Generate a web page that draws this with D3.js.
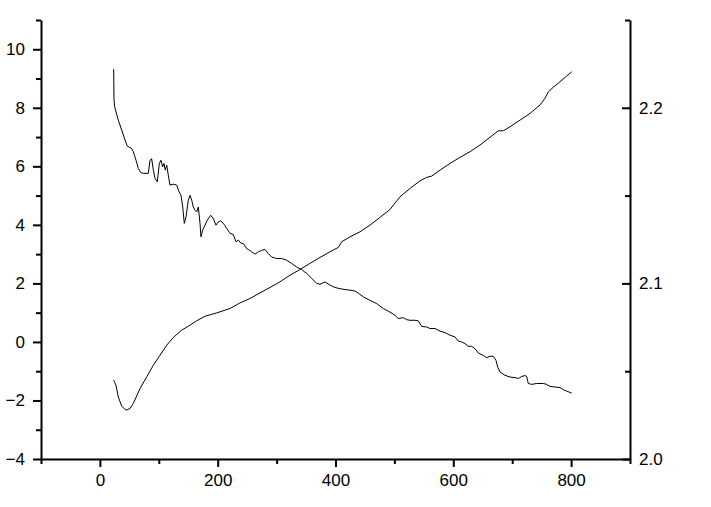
<!DOCTYPE html>
<html>
<head>
<meta charset="utf-8">
<script src="https://cdn.jsdelivr.net/npm/d3@7"></script>
<style>
  html, body { margin: 0; padding: 0; background: #fff; }
  svg { display: block; }
  .axis text { font-family: "Liberation Sans", Arial, sans-serif; font-size: 17px; fill: #000; }
</style>
</head>
<body>
<svg id="chart" width="711" height="507"></svg>
<script>
// ---- data ----
const xMajorTicks = [0, 200, 400, 600, 800];
const xMinorTicks = [-100, 100, 300, 500, 700, 900];
const leftMajorTicks = [-4, -2, 0, 2, 4, 6, 8, 10];
const leftMinorTicks = [-3, -1, 1, 3, 5, 7, 9, 11];
const rightMajorTicks = [2.0, 2.1, 2.2];
const rightMinorTicks = [2.05, 2.15, 2.25];

// series A (left axis): decreasing, noisy
const seriesAx = [23.4, 23.9, 25.1, 31.2, 37.0, 42.6, 46.5, 54.0, 56.7, 61.3, 65.2, 69.3, 73.7, 82.2, 85.1, 87.9, 90.7, 93.6, 97.5, 100.9,
  103.7, 106.6, 108.8, 111.0, 113.4, 116.1, 119.0, 124.6, 130.4, 134.3, 137.7, 140.6, 143.3, 146.2, 150.1, 153.0, 155.9, 158.6, 161.5, 164.3,
  167.1, 170.0, 171.6, 174.5, 178.4, 182.3, 188.1, 192.5, 197.1, 201.0, 205.1, 210.7, 215.3, 220.9, 226.5, 231.1, 235.0, 239.1, 243.5, 249.2,
  252.0, 257.7, 263.3, 268.9, 274.7, 280.3, 285.9, 291.7, 300.2, 308.7, 317.2, 325.6, 334.1, 342.6, 351.1, 359.6, 368.1, 373.7, 382.2, 390.7,
  399.2, 407.6, 416.1, 424.6, 433.1, 438.7, 447.2, 458.6, 470.0, 481.2, 492.5, 501.0, 506.6, 515.1, 520.9, 526.5, 535.0, 540.6, 546.4, 554.8,
  560.4, 568.9, 577.4, 585.9, 594.4, 602.9, 608.5, 614.3, 619.9, 625.5, 631.2, 636.8, 642.5, 650.9, 656.7, 662.3, 667.9, 672.5, 675.4, 679.3,
  687.8, 696.3, 704.8, 710.4, 716.1, 721.7, 724.6, 727.3, 733.1, 741.6, 752.8, 758.6, 764.2, 772.7, 781.1, 786.8, 792.5, 801.0];
const seriesAy = [9.32, 8.30, 8.03, 7.58, 7.24, 6.90, 6.69, 6.61, 6.50, 6.21, 5.93, 5.79, 5.76, 5.76, 6.21, 6.26, 5.87, 5.59, 5.47, 6.10,
  6.21, 5.98, 6.10, 5.87, 6.04, 5.70, 5.36, 5.39, 5.36, 5.13, 5.01, 4.61, 4.05, 4.27, 4.84, 5.01, 4.84, 4.61, 4.50, 4.44,
  4.61, 4.05, 3.59, 3.82, 3.99, 4.16, 4.33, 4.22, 3.99, 4.10, 4.14, 4.02, 3.88, 3.71, 3.67, 3.42, 3.48, 3.38, 3.36, 3.19,
  3.16, 3.08, 3.00, 3.08, 3.13, 3.16, 3.02, 2.90, 2.85, 2.85, 2.79, 2.68, 2.56, 2.47, 2.34, 2.17, 2.00, 1.97, 2.05, 1.94,
  1.86, 1.82, 1.79, 1.77, 1.74, 1.67, 1.54, 1.42, 1.31, 1.14, 1.02, 0.91, 0.80, 0.83, 0.76, 0.74, 0.74, 0.72, 0.53, 0.51,
  0.46, 0.46, 0.37, 0.32, 0.23, 0.17, 0.03, 0.00, -0.06, -0.15, -0.15, -0.23, -0.38, -0.46, -0.54, -0.49, -0.49, -0.63, -0.86, -1.03,
  -1.14, -1.20, -1.22, -1.25, -1.18, -1.15, -1.18, -1.42, -1.45, -1.42, -1.42, -1.45, -1.52, -1.54, -1.56, -1.63, -1.68, -1.75];

// series B (right axis): rising
const seriesBx = [23.4, 27.3, 31.2, 37.0, 44.3, 51.1, 56.7, 68.1, 79.5, 90.7, 102.0, 113.4, 124.6, 138.9, 150.1, 164.3, 178.4, 198.3, 220.9, 237.9,
  254.8, 271.8, 288.8, 305.8, 322.8, 339.7, 356.7, 373.7, 390.7, 404.8, 410.5, 424.6, 441.6, 458.6, 475.6, 492.5, 509.5, 526.5, 543.5, 554.8,
  563.3, 577.4, 594.4, 611.4, 628.4, 645.3, 662.3, 676.4, 684.9, 696.3, 713.3, 730.2, 747.2, 755.7, 761.3, 769.8, 781.1, 792.5, 801.0];
const seriesBy = [2.0449, 2.0420, 2.0354, 2.0301, 2.0278, 2.0287, 2.0316, 2.0401, 2.0468, 2.0534, 2.0591, 2.0648, 2.0692, 2.0734, 2.0756, 2.0787, 2.0813, 2.0832, 2.0857, 2.0889,
  2.0914, 2.0946, 2.0977, 2.1009, 2.1047, 2.1079, 2.1114, 2.1148, 2.1180, 2.1205, 2.1237, 2.1265, 2.1294, 2.1332, 2.1376, 2.1421, 2.1493, 2.1541, 2.1584, 2.1604,
  2.1611, 2.1645, 2.1683, 2.1718, 2.1750, 2.1788, 2.1832, 2.1869, 2.1869, 2.1892, 2.1930, 2.1968, 2.2016, 2.2054, 2.2091, 2.2117, 2.2148, 2.2181, 2.2205];

// ---- layout ----
const plot = { left: 41, right: 630, top: 20, bottom: 459 };
const svg = d3.select("#chart");

const x = d3.scaleLinear().domain([-100, 900]).range([plot.left, plot.right]);
const yL = d3.scaleLinear().domain([-4, 11]).range([plot.bottom, plot.top]);
const yR = d3.scaleLinear().domain([2.0, 2.25]).range([plot.bottom, plot.top]);

function styleAxis(g) {
  g.selectAll("path.domain").attr("stroke", "#000").attr("stroke-width", 2);
  g.selectAll(".tick line").attr("stroke", "#000").attr("stroke-width", 2);
}

// bottom axis
const gx = svg.append("g").attr("class", "axis").attr("transform", `translate(0,${plot.bottom})`);
gx.call(d3.axisBottom(x).tickValues(xMajorTicks).tickSize(8).tickSizeOuter(0).tickPadding(7).tickFormat(d3.format("d")));
gx.append("g").call(d3.axisBottom(x).tickValues(xMinorTicks).tickSize(5).tickSizeOuter(0).tickFormat(""))
  .select("path.domain").remove();
styleAxis(gx);

// left axis
const gl = svg.append("g").attr("class", "axis").attr("transform", `translate(${plot.left},0)`);
gl.call(d3.axisLeft(yL).tickValues(leftMajorTicks).tickSize(8).tickSizeOuter(0).tickPadding(8).tickFormat(d3.format("d")));
gl.append("g").call(d3.axisLeft(yL).tickValues(leftMinorTicks).tickSize(5).tickSizeOuter(0).tickFormat(""))
  .select("path.domain").remove();
styleAxis(gl);

// right axis (ticks point inward)
const gr = svg.append("g").attr("class", "axis").attr("transform", `translate(${plot.right},0)`);
gr.call(d3.axisRight(yR).tickValues(rightMajorTicks).tickSize(-8).tickSizeOuter(0).tickPadding(9).tickFormat(d3.format(".1f")));
gr.append("g").call(d3.axisRight(yR).tickValues(rightMinorTicks).tickSize(-5).tickSizeOuter(0).tickFormat(""))
  .select("path.domain").remove();
styleAxis(gr);
gr.selectAll("text").attr("text-anchor", "start");

// lines
const lineA = d3.line().x((d, i) => x(seriesAx[i])).y(d => yL(d));
const lineB = d3.line().x((d, i) => x(seriesBx[i])).y(d => yR(d));

svg.append("path").datum(seriesAy).attr("d", lineA)
  .attr("fill", "none").attr("stroke", "#000").attr("stroke-width", 1);
svg.append("path").datum(seriesBy).attr("d", lineB)
  .attr("fill", "none").attr("stroke", "#000").attr("stroke-width", 1);
</script>
</body>
</html>
